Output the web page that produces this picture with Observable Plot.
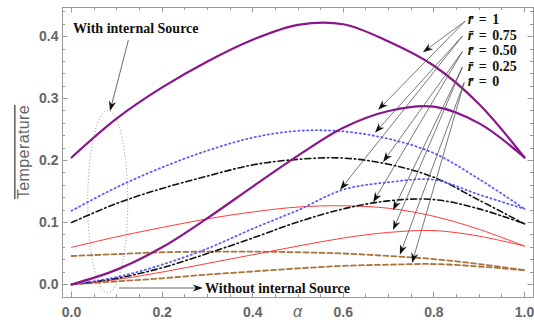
<!DOCTYPE html>
<html>
<head>
<meta charset="utf-8">
<script src="https://cdn.jsdelivr.net/npm/d3@7"></script>
<script src="https://cdn.jsdelivr.net/npm/@observablehq/plot@0.6"></script>
<style>
html,body{margin:0;padding:0;background:#fff;}
</style>
</head>
<body>
<div id="chart"></div>
<script>
// ---------- data ----------
const alpha = [0, 0.1, 0.2, 0.3, 0.4, 0.5, 0.6, 0.7, 0.8, 0.9, 1.0];

// with internal source
const withSource_r1   = [0.205, 0.268, 0.318, 0.360, 0.395, 0.419, 0.420, 0.392, 0.353, 0.291, 0.205];
const withSource_r075 = [0.119, 0.157, 0.189, 0.216, 0.237, 0.248, 0.247, 0.235, 0.212, 0.170, 0.122];
const withSource_r050 = [0.100, 0.131, 0.155, 0.175, 0.193, 0.202, 0.204, 0.194, 0.173, 0.136, 0.098];
const withSource_r025 = [0.060, 0.077, 0.092, 0.106, 0.117, 0.125, 0.127, 0.123, 0.110, 0.089, 0.062];
const withSource_r0   = [0.046, 0.049, 0.052, 0.053, 0.053, 0.052, 0.050, 0.046, 0.041, 0.033, 0.023];

// without internal source
const withoutSource_r1   = [0, 0.024, 0.060, 0.107, 0.158, 0.208, 0.253, 0.280, 0.287, 0.260, 0.205];
const withoutSource_r075 = [0, 0.012, 0.032, 0.058, 0.090, 0.120, 0.153, 0.165, 0.169, 0.145, 0.122];
const withoutSource_r050 = [0, 0.010, 0.027, 0.050, 0.075, 0.101, 0.122, 0.135, 0.137, 0.122, 0.098];
const withoutSource_r025 = [0, 0.008, 0.020, 0.034, 0.048, 0.062, 0.075, 0.084, 0.087, 0.078, 0.062];
const withoutSource_r0   = [0, 0.005, 0.010, 0.016, 0.021, 0.026, 0.030, 0.032, 0.033, 0.029, 0.023];

// ticks
const xMajorTicks = [0, 0.2, 0.4, 0.6, 0.8, 1.0];
const xMinorTicks = [0.05, 0.1, 0.15, 0.25, 0.3, 0.35, 0.45, 0.5, 0.55, 0.65, 0.7, 0.75, 0.85, 0.9, 0.95];
const yMajorTicks = [0, 0.1, 0.2, 0.3, 0.4];
const yMinorTicks = [0.02, 0.04, 0.06, 0.08, 0.12, 0.14, 0.16, 0.18, 0.22, 0.24, 0.26, 0.28, 0.32, 0.34, 0.36, 0.38, 0.42, 0.44];

// legend texts
const legendValues = ["1", "0.75", "0.50", "0.25", "0"];
const xLabel = "α";
const yLabel = "Temperature";
const withText = "With internal Source";
const withoutText = "Without internal Source";

// annotation anchors in data units (alpha, value)
const legendAnchors = [[0.876, 0.427], [0.876, 0.402], [0.876, 0.377], [0.876, 0.352], [0.876, 0.327]];
const arrowStarts = [
  [0.870, 0.424], [0.870, 0.424],
  [0.864, 0.400], [0.864, 0.400],
  [0.864, 0.375], [0.864, 0.375],
  [0.864, 0.350], [0.864, 0.350],
  [0.868, 0.325], [0.868, 0.325]
];
const arrowEnds = [
  [0.777, 0.374], [0.678, 0.281],
  [0.671, 0.244], [0.594, 0.152],
  [0.689, 0.197], [0.667, 0.132],
  [0.711, 0.119], [0.711, 0.087],
  [0.726, 0.047], [0.753, 0.034]
];
const sourceArrowStarts = [[0.1265, 0.3935], [0.106, -0.0065]];
const sourceArrowEnds   = [[0.086, 0.279], [0.291, -0.0065]];
const textAnchorsWith = [0.0044, 0.405];
const textAnchorsWithout = [0.296, -0.0145];
const ellipseCenter = [0.081, 0.133];
const ellipseRadii = [0.0442, 0.147];

// ---------- helpers ----------
const rows = vals => alpha.map((a, i) => ({alpha: a, value: vals[i]}));

const styleR1   = {stroke: "#8b168b", strokeWidth: 2.2};
const styleR075 = {stroke: "#5b5bff", strokeWidth: 1.8, strokeDasharray: "1.2,3.2", strokeLinecap: "round"};
const styleR050 = {stroke: "#111111", strokeWidth: 1.6, strokeDasharray: "6,3,1.5,3"};
const styleR025 = {stroke: "#ff3b3b", strokeWidth: 1};
const styleR0   = {stroke: "#a8753f", strokeWidth: 1.8, strokeDasharray: "5,3"};

const line = (vals, st) => Plot.line(rows(vals), {x: "alpha", y: "value", curve: "catmull-rom", ...st});

function frameTicks(index, {x, y}, values, dims) {
  const {width, height, marginTop, marginRight, marginBottom, marginLeft} = dims;
  const L = marginLeft, R = width - marginRight, T = marginTop, B = height - marginBottom;
  const g = d3.create("svg:g").attr("stroke", "#9a9a9a").attr("stroke-width", 1);
  const add = (x1, y1, x2, y2) => g.append("line").attr("x1", x1).attr("y1", y1).attr("x2", x2).attr("y2", y2);
  const tx = (v, len) => { const p = Math.round(x(v)) + 0.5; add(p, B, p, B - len); add(p, T, p, T + len); };
  const ty = (v, len) => { const p = Math.round(y(v)) + 0.5; add(L, p, L + len, p); add(R, p, R - len, p); };
  xMajorTicks.forEach(v => tx(v, 5.5));
  xMinorTicks.forEach(v => tx(v, 3));
  yMajorTicks.forEach(v => ty(v, 5.5));
  yMinorTicks.forEach(v => ty(v, 3));
  return g.node();
}

function arrows(starts, ends, color) {
  return (index, {x, y}) => {
    const g = d3.create("svg:g");
    starts.forEach((s, i) => {
      const e = ends[i];
      const x1 = x(s[0]), y1 = y(s[1]), x2 = x(e[0]), y2 = y(e[1]);
      const ang = Math.atan2(y2 - y1, x2 - x1);
      const Lh = 10, W = 3.6;
      const c = Math.cos(ang), sn = Math.sin(ang);
      const bx = x2 - Lh * c, by = y2 - Lh * sn;
      const nx = x2 - (Lh - 3) * c, ny = y2 - (Lh - 3) * sn;
      g.append("line").attr("x1", x1).attr("y1", y1).attr("x2", nx).attr("y2", ny)
        .attr("stroke", color).attr("stroke-width", 0.8);
      g.append("path")
        .attr("d", `M${x2},${y2}L${bx - W * sn},${by + W * c}L${nx},${ny}L${bx + W * sn},${by - W * c}Z`)
        .attr("fill", "#111");
    });
    return g.node();
  };
}

function ellipse(index, {x, y}) {
  const cx = x(ellipseCenter[0]), cy = y(ellipseCenter[1]);
  const rx = x(ellipseCenter[0] + ellipseRadii[0]) - cx;
  const ry = cy - y(ellipseCenter[1] + ellipseRadii[1]);
  return d3.create("svg:ellipse")
    .attr("cx", cx).attr("cy", cy).attr("rx", rx).attr("ry", ry)
    .attr("fill", "none").attr("stroke", "#8a8a8a").attr("stroke-width", 1)
    .attr("stroke-dasharray", "1,2.2").node();
}

function legendText(index, {x, y}) {
  const g = d3.create("svg:g")
    .attr("font-family", "'Liberation Serif', 'Times New Roman', serif")
    .attr("text-anchor", "start")
    .attr("font-weight", "bold").attr("font-size", 14).attr("fill", "#111")
    .attr("word-spacing", 2);
  legendValues.forEach((v, i) => {
    const t = g.append("text").attr("x", x(legendAnchors[i][0])).attr("y", y(legendAnchors[i][1]) + 5);
    t.append("tspan").attr("font-style", "italic").text("r\u0304");
    t.append("tspan").text(" = " + v);
  });
  return g.node();
}

function sourceText(index, {x, y}) {
  const g = d3.create("svg:g")
    .attr("font-family", "'Liberation Serif', 'Times New Roman', serif")
    .attr("text-anchor", "start")
    .attr("font-weight", "bold").attr("font-size", 14).attr("fill", "#111");
  g.append("text").attr("x", x(textAnchorsWith[0])).attr("y", y(textAnchorsWith[1])).text(withText);
  g.append("text").attr("x", x(textAnchorsWithout[0])).attr("y", y(textAnchorsWithout[1])).text(withoutText);
  return g.node();
}

function axisTitles(index, {x, y}, values, dims) {
  const g = d3.create("svg:g").attr("font-family", "'Liberation Sans', Arial, sans-serif").attr("fill", "#666");
  g.append("text").attr("x", x(0.5)).attr("y", dims.height - 5)
    .attr("text-anchor", "middle").attr("font-size", 16).attr("font-style", "italic").attr("font-weight", "normal")
    .text(xLabel);
  g.append("text").attr("transform", `translate(29,${(dims.marginTop + dims.height - dims.marginBottom) / 2}) rotate(-90)`)
    .attr("text-anchor", "middle").attr("font-size", 16).attr("font-weight", "normal")
    .attr("letter-spacing", 0.4)
    .style("text-decoration", "overline")
    .text(yLabel);
  return g.node();
}

const chart = Plot.plot({
  width: 534,
  height: 322,
  marginLeft: 62,
  marginRight: 1,
  marginTop: 7,
  marginBottom: 25,
  style: {
    fontFamily: "'Liberation Sans', Arial, sans-serif",
    fontSize: "14px",
    fontWeight: "bold",
    color: "#666",
    background: "#fff",
    overflow: "visible"
  },
  x: {domain: [-0.02, 1.02]},
  y: {domain: [-0.021, 0.447]},
  marks: [
    ellipse,
    line(withoutSource_r0, styleR0),
    line(withSource_r0, styleR0),
    line(withoutSource_r025, styleR025),
    line(withSource_r025, styleR025),
    line(withoutSource_r050, styleR050),
    line(withSource_r050, styleR050),
    line(withoutSource_r075, styleR075),
    line(withSource_r075, styleR075),
    line(withoutSource_r1, styleR1),
    line(withSource_r1, styleR1),
    arrows(arrowStarts, arrowEnds, "#555"),
    arrows(sourceArrowStarts, sourceArrowEnds, "#444"),
    legendText,
    sourceText,
    Plot.frame({stroke: "#9a9a9a"}),
    frameTicks,
    Plot.axisX({ticks: xMajorTicks, tickSize: 0, tickPadding: 10, tickFormat: d3.format(".1f"), label: null}),
    Plot.axisY({ticks: yMajorTicks, tickSize: 0, tickPadding: 4, tickFormat: d3.format(".1f"), label: null}),
    axisTitles
  ]
});
document.getElementById("chart").appendChild(chart);
</script>
</body>
</html>
